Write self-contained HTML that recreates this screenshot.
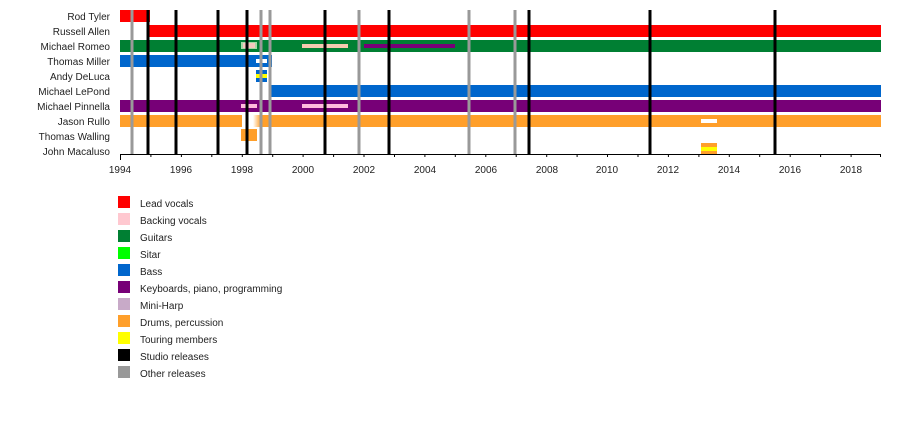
<!DOCTYPE html>
<html><head><style>body{margin:0;background:#fff}svg{display:block}text{font-family:"Liberation Sans",sans-serif;font-size:10px;fill:#222}</style></head><body>
<svg width="900" height="424" xmlns="http://www.w3.org/2000/svg">
<g>
<rect x="120" y="10" width="30" height="12" fill="#ff0000"/>
<rect x="149" y="25" width="732" height="12" fill="#ff0000"/>
<rect x="120" y="40" width="761" height="12" fill="#007f33"/>
<rect x="241" y="42" width="16" height="7" fill="#a6d9a6"/>
<rect x="243" y="43" width="12" height="5" fill="#f5c9c0"/>
<rect x="302" y="44" width="46" height="4" fill="#f5c9b0"/>
<rect x="364" y="44" width="91" height="4" fill="#770077"/>
<rect x="120" y="55" width="152" height="12" fill="#0066cc"/>
<rect x="256" y="59" width="11" height="4" fill="#fff"/>
<rect x="256" y="70" width="11" height="12" fill="#0066cc"/>
<rect x="256" y="74" width="11" height="4" fill="#ffff00"/>
<rect x="270" y="85" width="611" height="12" fill="#0066cc"/>
<rect x="120" y="100" width="761" height="12" fill="#770077"/>
<rect x="241" y="104" width="16" height="4" fill="#ffbbdd"/>
<rect x="302" y="104" width="46" height="4" fill="#ffbbdd"/>
<defs><linearGradient id="g" x1="0" x2="1"><stop offset="0" stop-color="#ff9f2a" stop-opacity="0"/><stop offset="1" stop-color="#ff9f2a"/></linearGradient></defs>
<rect x="120" y="115" width="122" height="12" fill="#ff9f2a"/>
<rect x="253" y="115" width="8" height="12" fill="url(#g)"/>
<rect x="260" y="115" width="621" height="12" fill="#ff9f2a"/>
<rect x="701" y="119" width="16" height="4" fill="#fff"/>
<rect x="241" y="129" width="16" height="12" fill="#ff9f2a"/>
<rect x="701" y="143" width="16" height="11" fill="#ff9f2a"/>
<rect x="701" y="147" width="16" height="4" fill="#ffff00"/>
</g>
<g stroke="#999" stroke-width="3">
<line x1="132" y1="10" x2="132" y2="154"/><line x1="261" y1="10" x2="261" y2="154"/><line x1="270" y1="10" x2="270" y2="154"/><line x1="359" y1="10" x2="359" y2="154"/><line x1="469" y1="10" x2="469" y2="154"/><line x1="515" y1="10" x2="515" y2="154"/>
</g>
<g stroke="#000" stroke-width="3">
<line x1="148" y1="10" x2="148" y2="154"/><line x1="176" y1="10" x2="176" y2="154"/><line x1="218" y1="10" x2="218" y2="154"/><line x1="247" y1="10" x2="247" y2="154"/><line x1="325" y1="10" x2="325" y2="154"/><line x1="389" y1="10" x2="389" y2="154"/><line x1="529" y1="10" x2="529" y2="154"/><line x1="650" y1="10" x2="650" y2="154"/><line x1="775" y1="10" x2="775" y2="154"/>
</g>
<line x1="120" y1="154.5" x2="881" y2="154.5" stroke="#000" stroke-width="1"/>
<g stroke="#000" stroke-width="1" id="ticks"></g>
<g text-anchor="end">
<text x="110" y="20">Rod Tyler</text><text x="110" y="35">Russell Allen</text><text x="110" y="50">Michael Romeo</text><text x="110" y="65">Thomas Miller</text><text x="110" y="80">Andy DeLuca</text><text x="110" y="95">Michael LePond</text><text x="110" y="110">Michael Pinnella</text><text x="110" y="125">Jason Rullo</text><text x="110" y="140">Thomas Walling</text><text x="110" y="155">John Macaluso</text>
</g>
<g stroke="#000">
<line x1="120.5" y1="154" x2="120.5" y2="160"/><line x1="150.9" y1="154" x2="150.9" y2="157"/><line x1="181.4" y1="154" x2="181.4" y2="157"/><line x1="211.8" y1="154" x2="211.8" y2="157"/><line x1="242.3" y1="154" x2="242.3" y2="157"/><line x1="272.7" y1="154" x2="272.7" y2="157"/><line x1="303.1" y1="154" x2="303.1" y2="157"/><line x1="333.6" y1="154" x2="333.6" y2="157"/><line x1="364" y1="154" x2="364" y2="157"/><line x1="394.5" y1="154" x2="394.5" y2="157"/><line x1="424.9" y1="154" x2="424.9" y2="157"/><line x1="455.3" y1="154" x2="455.3" y2="157"/><line x1="485.8" y1="154" x2="485.8" y2="157"/><line x1="516.2" y1="154" x2="516.2" y2="157"/><line x1="546.7" y1="154" x2="546.7" y2="157"/><line x1="577.1" y1="154" x2="577.1" y2="157"/><line x1="607.5" y1="154" x2="607.5" y2="157"/><line x1="638" y1="154" x2="638" y2="157"/><line x1="668.4" y1="154" x2="668.4" y2="157"/><line x1="698.9" y1="154" x2="698.9" y2="157"/><line x1="729.3" y1="154" x2="729.3" y2="157"/><line x1="759.7" y1="154" x2="759.7" y2="157"/><line x1="790.2" y1="154" x2="790.2" y2="157"/><line x1="820.6" y1="154" x2="820.6" y2="157"/><line x1="851.1" y1="154" x2="851.1" y2="157"/><line x1="880.5" y1="154" x2="880.5" y2="157"/>
</g>
<g text-anchor="middle">
<text x="120" y="173">1994</text><text x="181" y="173">1996</text><text x="242" y="173">1998</text><text x="303" y="173">2000</text><text x="364" y="173">2002</text><text x="425" y="173">2004</text><text x="486" y="173">2006</text><text x="547" y="173">2008</text><text x="607" y="173">2010</text><text x="668" y="173">2012</text><text x="729" y="173">2014</text><text x="790" y="173">2016</text><text x="851" y="173">2018</text>
</g>
<g>
<rect x="118" y="196" width="12" height="12" fill="#ff0000"/><text x="140" y="207">Lead vocals</text>
<rect x="118" y="213" width="12" height="12" fill="#ffc8d0"/><text x="140" y="224">Backing vocals</text>
<rect x="118" y="230" width="12" height="12" fill="#007f33"/><text x="140" y="241">Guitars</text>
<rect x="118" y="247" width="12" height="12" fill="#00ff00"/><text x="140" y="258">Sitar</text>
<rect x="118" y="264" width="12" height="12" fill="#0066cc"/><text x="140" y="275">Bass</text>
<rect x="118" y="281" width="12" height="12" fill="#770077"/><text x="140" y="292">Keyboards, piano, programming</text>
<rect x="118" y="298" width="12" height="12" fill="#c8aac8"/><text x="140" y="309">Mini-Harp</text>
<rect x="118" y="315" width="12" height="12" fill="#ff9f2a"/><text x="140" y="326">Drums, percussion</text>
<rect x="118" y="332" width="12" height="12" fill="#ffff00"/><text x="140" y="343">Touring members</text>
<rect x="118" y="349" width="12" height="12" fill="#000"/><text x="140" y="360">Studio releases</text>
<rect x="118" y="366" width="12" height="12" fill="#999"/><text x="140" y="377">Other releases</text>
</g>
</svg>
</body></html>
